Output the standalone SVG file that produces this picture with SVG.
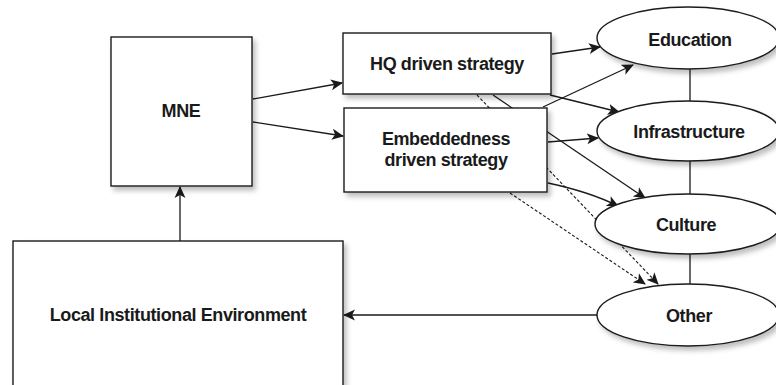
<svg xmlns="http://www.w3.org/2000/svg" width="776" height="385" viewBox="0 0 776 385">
<defs>
<style>
.box{fill:#fff;stroke:#1a1a1a;stroke-width:1.4;}
.lbl{font-family:"Liberation Sans",Arial,sans-serif;font-weight:bold;font-size:18px;fill:#1a1a1a;text-anchor:middle;letter-spacing:-0.4px;}
.ln{fill:none;stroke:#1a1a1a;stroke-width:1.3;}
.arr{marker-end:url(#ah);}
.dash{stroke-dasharray:3 2;stroke-width:1.1;}
</style>
<marker id="ah" markerWidth="13" markerHeight="12" refX="11" refY="6" orient="auto" markerUnits="userSpaceOnUse">
<path d="M0,0.5 L12,6 L0,11.5 L3,6 Z" fill="#1a1a1a"/>
</marker>
<filter id="sh" x="-10%" y="-10%" width="130%" height="140%">
<feDropShadow dx="3" dy="4" stdDeviation="2.5" flood-color="#000" flood-opacity="0.25"/>
</filter>
</defs>

<g id="connectors">
<path class="ln arr" d="M253,99 L342,83"/>
<path class="ln arr" d="M253,122 L343,136"/>
<path class="ln arr" d="M180,241 L180,187"/>
<path class="ln arr" d="M597,315 L344,315"/>
<path class="ln arr" d="M552,54 L600,47"/>
<path class="ln arr" d="M543,107 L633,65"/>
<path class="ln arr" d="M550,95 L619,112"/>
<path class="ln arr" d="M548,142 L598,138"/>
<path class="ln arr" d="M493,95 L645,198"/>
<path class="ln arr" d="M548,183 Q590,192 618,206"/>
<path class="ln arr dash" d="M477,95 L658,284"/>
<path class="ln arr dash" d="M510,193 L645,284"/>
<path class="ln" d="M690,69 L690,101"/>
<path class="ln" d="M690,161 L690,194"/>
<path class="ln" d="M690,254 L690,284"/>
</g>

<g id="mne">
<rect class="box" filter="url(#sh)" x="111" y="37" width="141" height="149"/>
<text class="lbl" x="181" y="117">MNE</text>
</g>

<g id="hq">
<rect class="box" filter="url(#sh)" x="343" y="33" width="208" height="61"/>
<text class="lbl" x="447" y="70">HQ driven strategy</text>
</g>

<g id="embeddedness">
<rect class="box" filter="url(#sh)" x="344" y="108" width="203" height="84"/>
<text class="lbl" x="446" y="145">Embeddedness</text>
<text class="lbl" x="446" y="166">driven strategy</text>
</g>

<g id="lie">
<rect class="box" filter="url(#sh)" x="13" y="241" width="330" height="160"/>
<text class="lbl" x="178" y="321">Local Institutional Environment</text>
</g>

<g id="education">
<ellipse class="box" filter="url(#sh)" cx="688" cy="38" rx="91" ry="31"/>
<text class="lbl" x="690" y="46">Education</text>
</g>

<g id="infrastructure">
<ellipse class="box" filter="url(#sh)" cx="688" cy="131" rx="91" ry="30"/>
<text class="lbl" x="689" y="138">Infrastructure</text>
</g>

<g id="culture">
<ellipse class="box" filter="url(#sh)" cx="688" cy="224" rx="93" ry="30"/>
<text class="lbl" x="686" y="231">Culture</text>
</g>

<g id="other">
<ellipse class="box" filter="url(#sh)" cx="688" cy="315" rx="91" ry="31"/>
<text class="lbl" x="689" y="322">Other</text>
</g>
</svg>
